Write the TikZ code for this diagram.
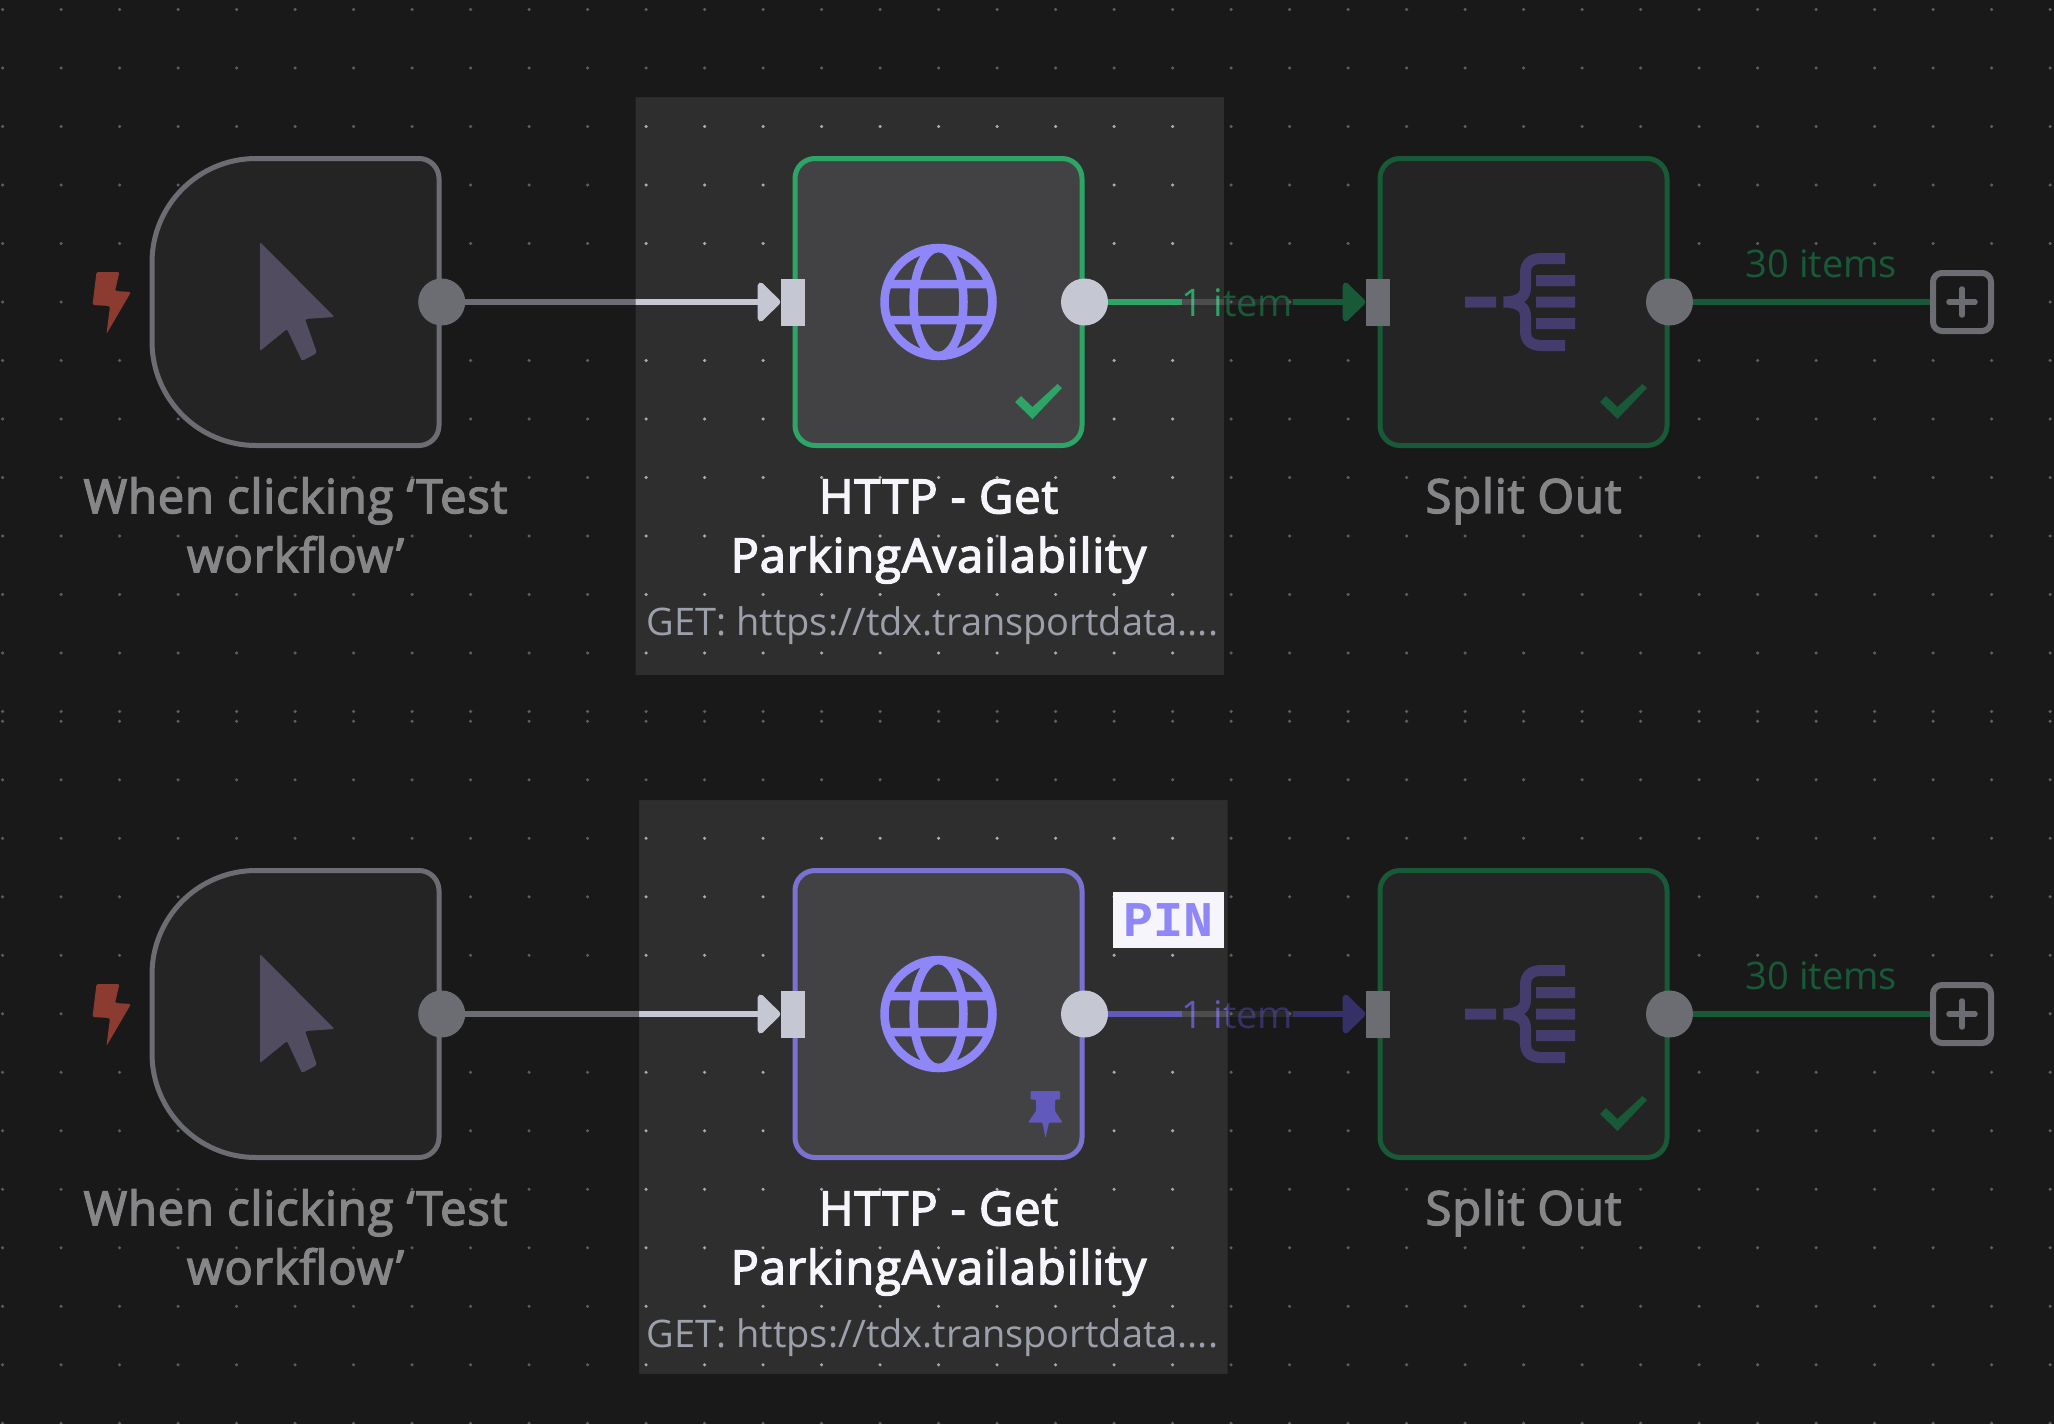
\documentclass[tikz,border=0pt]{standalone}
\usepackage{fontspec}
\setmainfont{Open Sans}
\newfontfamily\titlefont{Open Sans}[FakeBold=3,LetterSpace=2]
\newfontfamily\pinfont{Liberation Mono}
\usetikzlibrary{positioning,arrows.meta}

\definecolor{canvas}{HTML}{2E2E2E}
\definecolor{griddot}{HTML}{ABABB5}
\definecolor{boxfill}{HTML}{424244}
\definecolor{boxedge}{HTML}{C5C8D3}
\definecolor{flowgreen}{HTML}{2CA566}
\definecolor{flowpurple}{HTML}{7A72D0}
\definecolor{wirepurple}{HTML}{6259BC}
\definecolor{globeblue}{HTML}{8F87F7}
\definecolor{splitblue}{HTML}{7C6EC6}
\definecolor{cursorgray}{HTML}{958CB0}
\definecolor{boltred}{HTML}{FF6D5A}
\definecolor{titlewhite}{HTML}{F5F5FB}
\definecolor{subgray}{HTML}{9CA0AA}

\tikzset{
	flowbox/.style={draw,rounded corners=20pt,minimum size=287pt,line width=5pt,fill=boxfill},
	outport/.style={circle,fill=boxedge,minimum size=47pt,inner sep=0},
	inport/.style={rectangle,fill=boxedge,minimum width=24pt,minimum height=47pt,inner sep=0},
	wire/.style={line width=6pt},
	title/.style={font=\titlefont\fontsize{47}{59}\selectfont,align=center,inner sep=0,text=titlewhite,
		execute at begin node=\vphantom{l}},
	count/.style={font=\fontsize{38}{46}\selectfont,inner sep=0,anchor=base},
}

\begin{document}
\begin{tikzpicture}[x=1pt,y=-1pt]
	\useasboundingbox (0,0) rectangle (2054,1424);
	\fill[canvas] (0,0) rectangle (2054,1424);
	\foreach \k in {0,...,35} {
		\foreach \j in {0,...,12}
			\fill[griddot] ({2.6+58.5*\k},{9.5+58.5*\j}) circle (1.7);		% upper half
		\foreach \j in {0,...,12}
			\fill[griddot] ({2.6+58.5*\k},{721.3+58.5*\j}) circle (1.7);	% lower half
	}
	\foreach \r/\yy/\rowcol/\wirecol in {1/302/flowgreen/flowgreen,2/1014/flowpurple/wirepurple} {
		% trigger
		\node (trig\r) at (295.5,\yy) [minimum size=292pt,inner sep=0] {};
		\draw[line width=5pt,draw=boxedge,fill=boxfill,shift={(trig\r)}]
			(-39.5,-143.5) -- (123.5,-143.5) .. controls (134.5,-143.5) and (143.5,-134.5) .. (143.5,-123.5)
			-- (143.5,123.5) .. controls (143.5,134.5) and (134.5,143.5) .. (123.5,143.5)
			-- (-39.5,143.5) .. controls (-97,143.5) and (-143.5,97) .. (-143.5,39.5)
			-- (-143.5,-39.5) .. controls (-143.5,-97) and (-97,-143.5) .. (-39.5,-143.5) -- cycle;
		\fill[cursorgray,rounded corners=2pt,shift={(trig\r)}]
			(-35.5,-60) -- (39,15) -- (9.5,17) -- (21.5,51) -- (6.5,59) -- (-8.5,27) -- (-35.5,49) -- cycle;
		\fill[boltred,rounded corners=1.5pt,shift={(trig\r)}]
			(-203,3) -- (-199,-30) -- (-176,-30) -- (-180.5,-11) -- (-164.5,-10) -- (-189,32) -- (-185.5,4) -- cycle;
		\node[title] (triglabel\r) [below=29pt of trig\r] {When clicking ‘Test\\workflow’};
		\node[outport] (trigout\r) at (trig\r.east) {};
		% http request
		\node[flowbox,draw=\rowcol] (http\r) at (938.5,\yy) {};
		\draw[globeblue,line width=8.5pt,shift={(http\r)}]
			(0,0) circle (54) (0,0) ellipse [x radius=25,y radius=54]
			(-50,-18) -- (50,-18) (-50,18) -- (50,18);
		\node[title] (httplabel\r) [below=31pt of http\r] {HTTP - Get\\ParkingAvailability};
		\node[font=\fontsize{38}{46}\selectfont,inner sep=0,text=subgray,xshift=-6pt] (httpurl\r) [below=23pt of httplabel\r] {GET: https://tdx.transportdata....};
		\node[inport] (httpin\r) at (http\r.west) {};
		\node[outport] (httpout\r) at (http\r.east) {};
		% split out
		\node[flowbox,draw=flowgreen] (split\r) at (1523.5,\yy) {};
		\draw[splitblue,line width=11pt,shift={(split\r)}]
			(-58.5,0) -- (-27.5,0)
			(41.5,-43.5) -- (18,-43.5) .. controls (7,-43.5) and (2,-38) .. (2,-29) -- (2,-14)
			.. controls (2,-6) and (-4,0) .. (-20,0) .. controls (-4,0) and (2,6) .. (2,14)
			-- (2,29) .. controls (2,38) and (7,43.5) .. (18,43.5) -- (41.5,43.5)
			(12.5,-21.5) -- (51.5,-21.5) (12.5,0) -- (51.5,0) (12.5,21.5) -- (51.5,21.5);
		\fill[flowgreen,shift={(split\r)}]
			(76.5,100) -- (82.5,94) -- (94,105) -- (119,82) -- (123.5,86) -- (94,117) -- cycle;
		\node[title] (splitlabel\r) [below=29pt of split\r] {Split Out};
		\node[inport] (splitin\r) at (split\r.west) {};
		\node[outport] (splitout\r) at (split\r.east) {};
		% end of the flow
		\node[draw=boxedge,line width=6pt,rounded corners=9pt,minimum size=58pt,inner sep=0] (plus\r) at (1962,\yy) {};
		\draw[boxedge,line width=5.5pt,line cap=round,shift={(plus\r)}] (-13,0) -- (13,0) (0,-13) -- (0,13);
		% connectors
		\draw[wire,boxedge,-{Triangle[length=24pt,width=46pt,round]}] (trigout\r) -- (httpin\r);
		\node[count,text=\wirecol] (httpcount\r) at (1237.5,\yy+14) {1 item};
		\draw[wire,boxedge,opacity=.2] (httpcount\r.west |- httpout\r) -- (httpcount\r.east |- httpout\r);
		\draw[wire,\wirecol] (httpout\r) -- (httpcount\r.west |- httpout\r);
		\draw[wire,\wirecol,-{Triangle[length=24pt,width=46pt,round]}] (httpcount\r.east |- httpout\r) -- (splitin\r);
		\draw[wire,flowgreen] (splitout\r) -- (plus\r);
		\node[count,text=flowgreen] (splitcount\r) at (1821.5,\yy-25) {30 items};
	}
	\fill[flowgreen,shift={(http1)}]
		(76.5,100) -- (82.5,94) -- (94,105) -- (119,82) -- (123.5,86) -- (94,117) -- cycle;
	\fill[wirepurple,rounded corners=1pt,shift={(http2)}]
		(92,77) -- (121.5,77) -- (121.5,85.5) -- (116.5,85.5) -- (116.5,97) -- (124,108.5) -- (110.5,108.5)
		-- (107,124) -- (104,108.5) -- (89.5,108.5) -- (97.5,97) -- (97.5,85.5) -- (92,85.5) -- cycle;
	\node[fill=titlewhite,text=globeblue,font=\pinfont\bfseries\fontsize{50}{50}\selectfont,minimum width=111pt,minimum height=56pt,inner sep=0] (pin) at (1168.2,920) {PIN};
	\fill[black,opacity=.45,even odd rule] (0,0) rectangle (2054,1424)	% dimmed canvas
		(635.7,97) rectangle (1224,675) (639,800) rectangle (1227.5,1374);
\end{tikzpicture}
\end{document}
